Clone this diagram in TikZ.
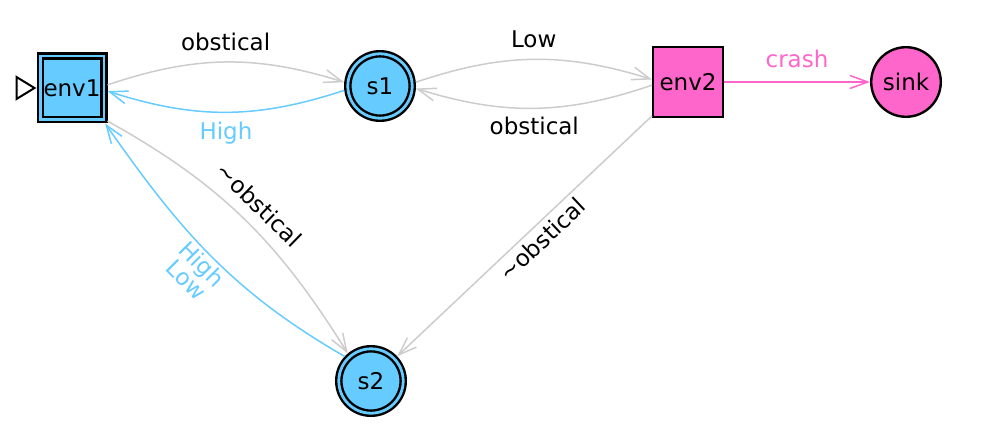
\documentclass[tikz,border=0pt]{standalone}
\usepackage{fontspec}
\setmainfont{DejaVu Sans}
\usetikzlibrary{arrows.meta}
\definecolor{stateblue}{HTML}{66CCFF}
\definecolor{envpink}{HTML}{FF66CC}
\definecolor{edgegray}{HTML}{CCCCCC}
\tikzset{
  envbox/.style={rectangle, draw, line width=1.2pt, inner sep=0pt, minimum size=34.8pt, outer sep=0.6pt},
  statecirc/.style={circle, draw, line width=1.2pt, inner sep=0pt, minimum size=34.8pt, outer sep=0.6pt},
  doubled/.style 2 args={double=#1, double distance=#2, outer sep=1.2pt+0.5*#2},
  trans/.style={-{Straight Barb[length=9pt,width=6.5pt]}, line width=0.75pt},
  lbl/.style={inner sep=3.5pt}
}
\begin{document}
\begin{tikzpicture}[x=0.5pt,y=0.5pt,font=\fontsize{11.5}{13}\selectfont]
  \useasboundingbox (0,0) rectangle (988,-448);
  \draw
    (72,-88) node[envbox, fill=stateblue, doubled={stateblue}{1.3pt}, minimum size=31.8pt] (env1){env1}
    (380,-86) node[statecirc, fill=stateblue, doubled={stateblue}{1.4pt}, minimum size=32.2pt] (s1){s1}
    (688,-82) node[envbox, fill=envpink] (env2){env2}
    (906,-82) node[statecirc, fill=envpink] (sink){sink}
    (371,-381) node[statecirc, fill=stateblue, doubled={stateblue}{1.4pt}, minimum size=32.2pt] (s2){s2};
  % start marker
  \draw[line width=1pt, line join=miter] ([xshift=-1pt]env1.west) -- ++(-18,11) -- ++(0,-22) -- cycle;
  \begin{scope}[trans]
    \draw[edgegray] (env1.5) to[bend left=18]
      node[lbl, above=2pt, text=black] {obstical} (s1.174);
    \draw[stateblue] (s1.187) to[bend left=18]
      node[lbl, below=1pt, text=stateblue] {High} (env1.-5);
    \draw[edgegray] (s1.6) to[bend left=18]
      node[lbl, above=2pt, text=black] {Low} (env2.176);
    \draw[edgegray] (env2.185) to[bend left=18]
      node[lbl, below=0.5pt, text=black] {obstical} (s1.-4);
    \draw[envpink] (env2) --
      node[lbl, above=3pt, text=envpink] {crash} (sink);
    \draw[edgegray] (env1.-43) to[out=-29, in=122]
      node[lbl, sloped, above=2pt, text=black] {\textasciitilde obstical} (s2.130);
    \draw[stateblue] (s2.137) to[out=150, in=-55]
      node[lbl, sloped, below=-2.5pt, align=center, text=stateblue, font=\fontsize{11.5}{11}\selectfont] {High\\Low} (env1.-47);
    \draw[edgegray] (env2) --
      node[lbl, sloped, below=-1pt, pos=0.47, text=black] {\textasciitilde obstical} (s2);
  \end{scope}
\end{tikzpicture}
\end{document}
